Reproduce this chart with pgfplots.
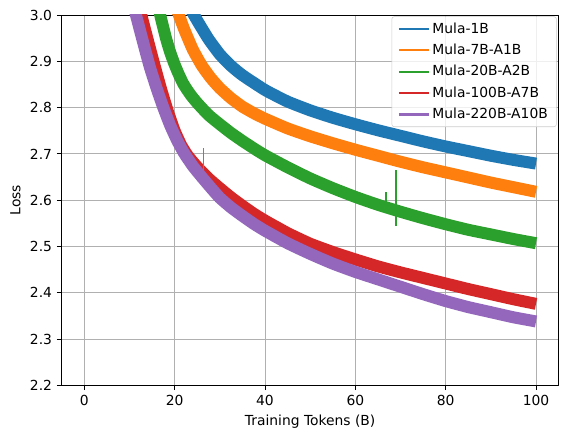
\documentclass[border=0pt]{standalone}
\usepackage{fontspec}
\setmainfont{DejaVu Sans}
\usepackage{pgfplots}
\pgfplotsset{compat=1.18}
\definecolor{c1}{HTML}{1F77B4}
\definecolor{c2}{HTML}{FF7F0E}
\definecolor{c3}{HTML}{2CA02C}
\definecolor{c4}{HTML}{D62728}
\definecolor{c5}{HTML}{9467BD}
\definecolor{gridc}{HTML}{B0B0B0}
\begin{document}
\fontsize{10.4}{12.5}\selectfont
\begin{tikzpicture}
\begin{axis}[
  scale only axis,
  width=373pt, height=278pt,
  xmin=-5, xmax=105, ymin=2.2, ymax=3.0,
  xtick={0,20,40,60,80,100},
  ytick={2.2,2.3,2.4,2.5,2.6,2.7,2.8,2.9,3.0},
  yticklabel style={/pgf/number format/.cd, fixed, fixed zerofill, precision=1},
  /pgf/number format/assume math mode=true,
  tick align=outside,
  tick pos=left,
  major tick length=3.6pt,
  every tick/.style={black, line width=0.6pt},
  axis line style={line width=0.6pt},
  grid=major,
  major grid style={gridc, line width=0.6pt},
  ticklabel style={font=\fontsize{10.4}{12.5}\selectfont},
  label style={font=\fontsize{10.4}{12.5}\selectfont},
  xlabel={Training Tokens (B)},
  ylabel={Loss},
  line join=round,
  legend style={at={(1,1)}, anchor=north east, xshift=-1.4pt, yshift=-1.0pt,
    draw=black!20, fill=white, fill opacity=0.8, text opacity=1,
    rounded corners=2pt, font=\fontsize{10.4}{12.5}\selectfont,
    inner xsep=4.5pt, inner ysep=2.5pt, row sep=2.6pt},
  legend cell align=left,
  legend image code/.code={\draw[line width=1.56pt, line cap=butt] (0pt,0pt) -- (22.5pt,0pt);},
]
\addlegendimage{c1}
\addlegendentry{Mula-1B}
\addlegendimage{c2}
\addlegendentry{Mula-7B-A1B}
\addlegendimage{c3}
\addlegendentry{Mula-20B-A2B}
\addlegendimage{c4}
\addlegendentry{Mula-100B-A7B}
\addlegendimage{c5}
\addlegendentry{Mula-220B-A10B}
\addplot[c1, line width=9pt, smooth, tension=0.3, forget plot] coordinates {
(23.1,3.02) (25,2.988) (27.5,2.948) (30,2.915) (32.5,2.890) (35,2.870) (40,2.838) (45,2.813) (50,2.794) (55,2.778) (60,2.764) (65,2.751) (70,2.739) (75,2.727) (80,2.716) (85,2.706) (90,2.696) (95,2.687) (100,2.679)};
\addplot[c2, line width=9pt, smooth, tension=0.3, forget plot] coordinates {
(20.2,3.02) (22,2.972) (24,2.926) (26,2.891) (28,2.864) (30,2.842) (32.5,2.820) (35,2.802) (37.5,2.788) (40,2.776) (45,2.755) (50,2.738) (55,2.723) (60,2.709) (65,2.696) (70,2.683) (75,2.671) (80,2.660) (85,2.649) (90,2.638) (95,2.628) (100,2.618)};
\addplot[c3, line width=9pt, smooth, tension=0.3, forget plot] coordinates {
(16.3,3.02) (18,2.953) (19,2.920) (20,2.893) (21,2.870) (22,2.850) (23.5,2.828) (25,2.810) (27.5,2.784) (30,2.764) (32.5,2.745) (35,2.728) (37.5,2.712) (40,2.697) (45,2.671) (50,2.647) (55,2.626) (60,2.607) (65,2.590) (70,2.575) (75,2.561) (80,2.548) (85,2.536) (90,2.526) (95,2.516) (100,2.507)};
\addplot[c4, line width=9pt, smooth, tension=0.3, forget plot] coordinates {
(12.1,3.02) (14,2.948) (15.5,2.893) (17,2.840) (18.5,2.792) (20,2.750) (21.5,2.718) (23,2.695) (25,2.672) (27.5,2.647) (30,2.626) (32.5,2.606) (35,2.588) (37.5,2.571) (40,2.556) (45,2.529) (50,2.506) (55,2.488) (60,2.472) (65,2.457) (70,2.444) (75,2.432) (80,2.420) (85,2.408) (90,2.397) (95,2.386) (100,2.376)};
\addplot[c5, line width=9pt, smooth, tension=0.3, forget plot] coordinates {
(10.9,3.02) (13,2.942) (14.5,2.888) (16,2.842) (17.5,2.800) (19,2.762) (20.5,2.730) (22,2.703) (24,2.674) (26,2.650) (28,2.627) (30,2.605) (32.5,2.584) (35,2.566) (37.5,2.549) (40,2.534) (45,2.507) (50,2.484) (55,2.463) (60,2.445) (65,2.429) (70,2.413) (75,2.397) (80,2.382) (85,2.369) (90,2.358) (95,2.347) (100,2.338)};
\addplot[c5, line width=1.2pt, forget plot] coordinates {(26.4,2.645) (26.4,2.713)};
\addplot[c3, line width=1.2pt, forget plot] coordinates {(66.8,2.585) (66.8,2.618)};
\addplot[c3, line width=1.2pt, forget plot] coordinates {(69.0,2.545) (69.0,2.665)};
\end{axis}
\pgfresetboundingbox
\useasboundingbox ([shift={(-46.3pt,-39.3pt)}]current axis.south west) rectangle ([shift={(6.3pt,11.25pt)}]current axis.north east);
\end{tikzpicture}
\end{document}
